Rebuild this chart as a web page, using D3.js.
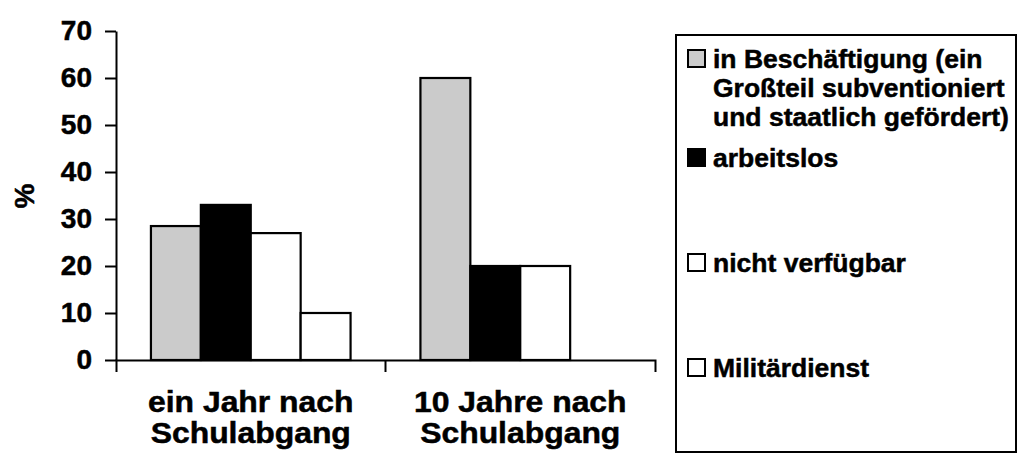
<!DOCTYPE html>
<html><head><meta charset="utf-8">
<script src="https://cdn.jsdelivr.net/npm/d3@7"></script>
<style>
html,body{margin:0;padding:0;background:#fff;}
svg{display:block;}
text{font-family:"Liberation Sans",Arial,sans-serif;font-weight:bold;fill:#000;stroke:#000;stroke-width:0.5px;}
</style></head>
<body>
<svg id="chart" width="1018" height="462"></svg>
<script>
const categories = [["ein Jahr nach","Schulabgang"],["10 Jahre nach","Schulabgang"]];
const categoryKeys = ["ein Jahr nach Schulabgang","10 Jahre nach Schulabgang"];
const seriesNames = ["in Beschäftigung (ein Großteil subventioniert und staatlich gefördert)","arbeitslos","nicht verfügbar","Militärdienst"];
const legendLines = [["in Beschäftigung (ein","Großteil subventioniert","und staatlich gefördert)"],["arbeitslos"],["nicht verfügbar"],["Militärdienst"]];
const seriesColors = ["#cbcbcb","#000000","#ffffff","#ffffff"];
const valuesYear1 = [28.5, 33, 27, 10];
const valuesYear10 = [60, 20, 20, 0];
const yTicks = [0,10,20,30,40,50,60,70];

const svg = d3.select("#chart");
const x0 = d3.scaleBand().domain(categoryKeys).range([116,655]).paddingInner(0).paddingOuter(0);
const x1 = d3.scaleBand().domain(seriesNames).range([0,x0.bandwidth()]).paddingInner(0).paddingOuter(0.7);
const y = d3.scaleLinear().domain([0,70]).range([360,31]);

const data = categoryKeys.map((c,i)=>({cat:c, vals:[valuesYear1,valuesYear10][i]}));

// bars
const g = svg.append("g");
data.forEach(d=>{
  g.selectAll(null).data(d.vals.map((v,j)=>({v,j}))).enter()
   .filter(e=>e.v>0)
   .append("rect")
   .attr("x",e=>x0(d.cat)+x1(seriesNames[e.j]))
   .attr("y",e=>y(e.v))
   .attr("width",x1.bandwidth())
   .attr("height",e=>y(0)-y(e.v))
   .attr("fill",e=>seriesColors[e.j])
   .attr("stroke","#000").attr("stroke-width",2.2);
});

// y axis
const yAxis = svg.append("g").attr("transform","translate(116,0)")
  .call(d3.axisLeft(y).tickValues(yTicks).tickSize(11).tickSizeOuter(0).tickPadding(13));
yAxis.selectAll("path,line").attr("stroke","#000").attr("stroke-width",2);
yAxis.selectAll("text").style("font-size","28px").attr("font-family",null);

// x axis
const xAxis = svg.append("g").attr("transform","translate(0,360)")
  .call(d3.axisBottom(x0).tickSize(0).tickSizeOuter(12).tickFormat(""));
xAxis.select(".domain").attr("stroke","#000").attr("stroke-width",2);
xAxis.append("line").attr("x1",x0(categoryKeys[1])).attr("x2",x0(categoryKeys[1]))
  .attr("y1",0).attr("y2",12).attr("stroke","#000").attr("stroke-width",2);
xAxis.selectAll(".tick").each(function(d,i){
  const t = d3.select(this).append("text").attr("text-anchor","middle")
    .attr("transform","scale(1.1,1)").style("font-size","29px");
  categories[i].forEach((ln,k)=>t.append("tspan").attr("x",0).attr("y",52+k*31).text(ln));
});

// y label
svg.append("text").attr("transform","translate(34,196) rotate(-90)")
  .attr("text-anchor","middle").style("font-size","28px").text("%");

// legend
svg.append("rect").attr("x",676).attr("y",35).attr("width",340).attr("height",417)
  .attr("fill","none").attr("stroke","#000").attr("stroke-width",2);
const legY = [68,167,272,377];
legendLines.forEach((lines,i)=>{
  svg.append("rect").attr("x",688).attr("y",legY[i]-18).attr("width",17).attr("height",17)
    .attr("fill",seriesColors[i]).attr("stroke","#000").attr("stroke-width",2);
  const t = svg.append("text").style("font-size","26.5px");
  lines.forEach((ln,k)=>t.append("tspan").attr("x",713).attr("y",legY[i]+k*29).text(ln));
});
</script>
</body></html>
